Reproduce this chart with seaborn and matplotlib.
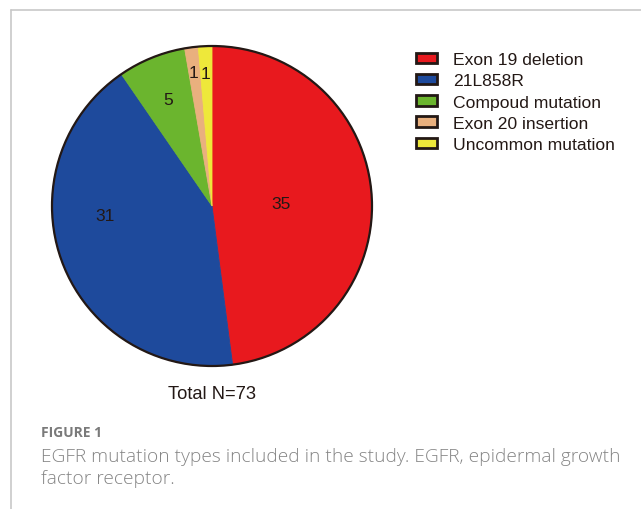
import numpy as np
import matplotlib
matplotlib.use("Agg")
import matplotlib.pyplot as plt
from matplotlib.patches import Patch
from matplotlib.lines import Line2D
import seaborn as sns

# EGFR mutation categories and patient counts
categories = ["Exon 19 deletion", "21L858R", "Compoud mutation",
              "Exon 20 insertion", "Uncommon mutation"]
counts = [35, 31, 5, 1, 1]
total_label = "Total N=73"
caption_title = "FIGURE 1"
caption_text = ["EGFR mutation types included in the study. EGFR, epidermal growth",
                "factor receptor."]

sns.set_theme(style="white")
plt.rcParams["font.family"] = ["Liberation Sans", "DejaVu Sans"]

palette = sns.color_palette(["#E8191E", "#1E4A9C", "#6BB52E", "#E9B07E", "#EEE83A"])
ink = "#231815"

W, H = 641, 510
fig = plt.figure(figsize=(W / 100, H / 100), dpi=100)
fig.patch.set_facecolor("white")

# frame lines of the figure panel (left and top)
fig.add_artist(Line2D([11 / W, 11 / W], [0, 1 - 11 / H], color="#c8c8c8", lw=1.2))
fig.add_artist(Line2D([11 / W, 1], [1 - 11 / H, 1 - 11 / H], color="#c8c8c8", lw=1.2))

# pie axes: center (212, 207) px, radius 160 px
cx, cy, r = 212, 207, 160
ax = fig.add_axes([(cx - r) / W, (H - cy - r) / H, 2 * r / W, 2 * r / H])
wedges, _ = ax.pie(counts, colors=palette, startangle=90, counterclock=False,
                   wedgeprops=dict(linewidth=0.6))
for w, c in zip(wedges, palette):
    w.set_edgecolor(c)
ax.set_xlim(-1, 1)
ax.set_ylim(-1, 1)
ax.set_aspect("equal")
ax.axis("off")

# dark outline around the pie
circle = plt.Circle((0, 0), 1, fill=False, ec=ink, lw=1.6, clip_on=False)
ax.add_patch(circle)

# count labels: radial distance and angular offset (deg) per wedge
label_radius = [0.43, 0.67, 0.72, 0.84, 0.83]
label_shift = [-1.5, -16.0, 0.0, 0.5, 0.5]
for w, n, rad, sh in zip(wedges, counts, label_radius, label_shift):
    ang = np.deg2rad((w.theta1 + w.theta2) / 2 + sh)
    ax.text(rad * np.cos(ang), rad * np.sin(ang), str(n), ha="center", va="center",
            fontsize=12.5, color=ink)

ax.text(0, -1.17, total_label, ha="center", va="center", fontsize=13.2, color=ink)

# legend
handles = [Patch(facecolor=c, edgecolor=ink, linewidth=2.0) for c in palette]
leg = fig.legend(handles, categories, loc="upper left",
                 bbox_to_anchor=(416 / W, 1 - 53 / H), frameon=False,
                 fontsize=12.6, handlelength=1.2, handleheight=0.55,
                 handletextpad=0.9, labelspacing=0.36, borderpad=0,
                 borderaxespad=0)
for t in leg.get_texts():
    t.set_color(ink)

# caption
fig.text(41 / W, 1 - 433 / H, caption_title, ha="left", va="center",
         fontsize=10, color="#7a7a7a", fontweight="bold", family="Open Sans")
for i, line in enumerate(caption_text):
    fig.text(41 / W, 1 - (457 + 22 * i) / H, line, ha="left", va="center",
             fontsize=13.8, color="#858585", family="Open Sans", fontweight="light")

fig.savefig("out.png", dpi=100)
